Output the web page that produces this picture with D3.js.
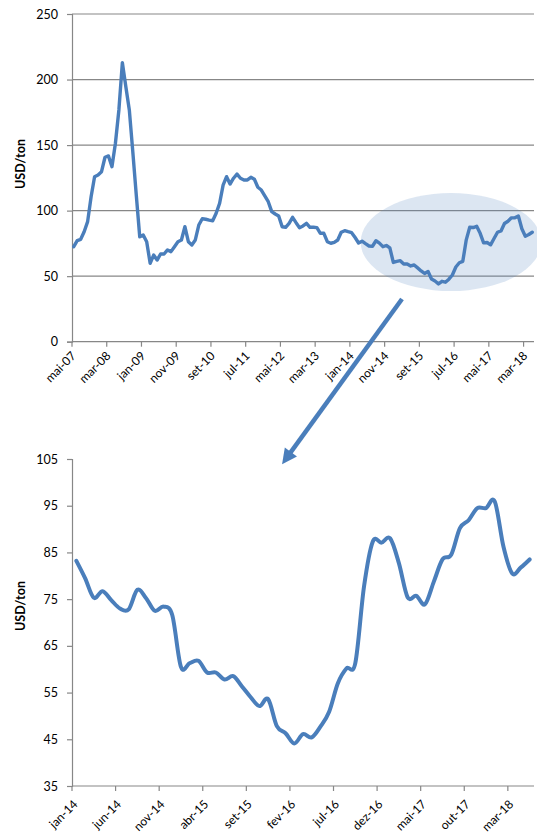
<!DOCTYPE html>
<html>
<head>
<meta charset="utf-8">
<script src="https://cdn.jsdelivr.net/npm/d3@7"></script>
<style>
  html, body { margin: 0; padding: 0; background: #fff; }
  svg { display: block; }
  text { font-family: Lato, "Open Sans", sans-serif; fill: #000; }
</style>
</head>
<body>
<svg id="chart" width="537" height="834"></svg>
<script>
// Monthly price, USD/ton — mai-07 to dez-13
const historyValues = [
  72.5, 77.1, 78.1, 83.9, 91.6, 110.6, 125.9, 127.2, 129.7, 140.7,
  141.7, 133.5, 151.4, 176.8, 212.9, 194.5, 176.8, 145.0, 112.0, 80.0,
  81.4, 76.3, 59.8, 66.1, 62.3, 66.9, 66.9, 70.0, 68.7, 72.5,
  76.3, 77.6, 87.7, 76.3, 73.8, 77.6, 89.0, 93.8, 93.4, 92.8,
  92.3, 98.0, 105.6, 119.5, 125.9, 120.3, 124.7, 127.9, 124.7, 123.4,
  123.4, 125.4, 123.9, 117.8, 115.7, 111.2, 106.8, 99.2, 97.4, 95.9,
  87.7, 87.3, 90.3, 94.9, 90.8, 87.0, 88.3, 90.3, 87.3, 87.3,
  87.0, 82.7, 82.7, 76.3, 75.1, 75.8, 77.6, 83.5, 84.7, 83.9
];
// Monthly price, USD/ton — jan-14 to mai-18
const recentValues = [
  83.2, 79.5, 75.3, 76.7, 74.8, 73.0, 72.8, 77.0, 75.2, 72.5,
  73.4, 71.6, 60.5, 61.3, 61.8, 59.3, 59.3, 57.8, 58.5, 56.3,
  54.0, 52.1, 53.6, 47.8, 46.3, 44.1, 46.1, 45.4, 47.7, 50.9,
  57.0, 60.2, 61.3, 77.7, 87.3, 87.1, 88.0, 82.7, 75.4, 75.7,
  73.9, 78.7, 83.5, 84.5, 90.2, 91.9, 94.5, 94.5, 95.9, 86.2,
  80.5, 81.8, 83.5
];

const monthNames = ["jan", "fev", "mar", "abr", "mai", "jun", "jul", "ago", "set", "out", "nov", "dez"];

const upperTickLabels = ["mai-07", "mar-08", "jan-09", "nov-09", "set-10", "jul-11", "mai-12",
  "mar-13", "jan-14", "nov-14", "set-15", "jul-16", "mai-17", "mar-18"];
const lowerTickLabels = ["jan-14", "jun-14", "nov-14", "abr-15", "set-15", "fev-16",
  "jul-16", "dez-16", "mai-17", "out-17", "mar-18"];

const upperYTicks = [0, 50, 100, 150, 200, 250];
const lowerYTicks = [35, 45, 55, 65, 75, 85, 95, 105];

// month labels like "mai-07" from a starting month/year
function monthLabels(startMonth, startYear, count) {
  return d3.range(count).map(k => {
    const m = (startMonth + k) % 12;
    const y = startYear + Math.floor((startMonth + k) / 12);
    return monthNames[m] + "-" + String(y % 100).padStart(2, "0");
  });
}

const allValues = historyValues.concat(recentValues);
const upperCategories = monthLabels(4, 2007, allValues.length);
const lowerCategories = monthLabels(0, 2014, recentValues.length);

const upperData = upperCategories.map((c, i) => ({ c, v: allValues[i] }));
const lowerData = lowerCategories.map((c, i) => ({ c, v: recentValues[i] }));

const LINE = "#4a7ebb";
const AXIS = "#878787";

const svg = d3.select("#chart");

function panel(cfg) {
  const g = svg.append("g");
  const x = d3.scaleBand().domain(cfg.categories).range([cfg.left, cfg.right]).padding(0);
  const y = d3.scaleLinear().domain(cfg.yDomain).range([cfg.bottom, cfg.top]);
  const xc = c => x(c) + x.bandwidth() / 2;

  // horizontal gridlines
  if (cfg.grid) {
    g.append("g").selectAll("line")
      .data(cfg.yTicks.filter(t => t !== cfg.yDomain[0]))
      .join("line")
      .attr("x1", cfg.left).attr("x2", cfg.right)
      .attr("y1", d => y(d)).attr("y2", d => y(d))
      .attr("stroke", AXIS).attr("stroke-width", 1.2);
  }

  // y axis
  const ya = g.append("g")
    .attr("transform", `translate(${cfg.left},0)`)
    .call(d3.axisLeft(y).tickValues(cfg.yTicks).tickSize(5).tickPadding(9).tickFormat(d3.format("d")));
  ya.select(".domain").attr("stroke", AXIS).attr("stroke-width", 1.2);
  ya.selectAll(".tick line").attr("stroke", AXIS).attr("stroke-width", 1.2);
  ya.selectAll(".tick text").style("font-size", "12.5px").style("font-family", "Lato, sans-serif").attr("fill", "#000");

  // x axis: tick marks on category boundaries, labels on category centers
  const xa = g.append("g").attr("transform", `translate(0,${cfg.bottom})`);
  xa.append("line")
    .attr("x1", cfg.left).attr("x2", cfg.right)
    .attr("stroke", AXIS).attr("stroke-width", 1.2);
  xa.selectAll("line.tick").data(cfg.tickLabels).join("line")
    .attr("class", "tick")
    .attr("x1", d => x(d)).attr("x2", d => x(d))
    .attr("y1", 0).attr("y2", 5)
    .attr("stroke", AXIS).attr("stroke-width", 1.2);
  xa.selectAll("text").data(cfg.tickLabels).join("text")
    .attr("text-anchor", "end")
    .attr("dy", "0.35em")
    .attr("transform", d => `translate(${xc(d) + cfg.labelDx},${cfg.labelDy}) rotate(-45)`)
    .style("font-size", "12px")
    .text(d => d);

  // axis title
  g.append("text")
    .attr("transform", `translate(${cfg.titleX},${cfg.titleY}) rotate(-90)`)
    .attr("text-anchor", "middle")
    .attr("dy", "0.35em")
    .style("font-size", "12.5px")
    .style("font-weight", "bold")
    .text("USD/ton");

  const lineGen = d3.line().x(d => xc(d.c)).y(d => y(d.v)).curve(cfg.curve);

  return { g, x, y, xc, lineGen };
}

const upper = panel({
  categories: upperCategories, tickLabels: upperTickLabels,
  left: 72, right: 534, top: 14, bottom: 341.7,
  yDomain: [0, 250], yTicks: upperYTicks, grid: true,
  labelDx: 0, labelDy: 12,
  titleX: 21, titleY: 164,
  curve: d3.curveLinear
});

const lower = panel({
  categories: lowerCategories, tickLabels: lowerTickLabels,
  left: 72, right: 534, top: 459, bottom: 786,
  yDomain: [35, 105], yTicks: lowerYTicks, grid: false,
  labelDx: -1, labelDy: 16,
  titleX: 21, titleY: 606,
  curve: d3.curveCardinal.tension(0)
});

// series lines
upper.g.append("path").datum(upperData)
  .attr("d", upper.lineGen)
  .attr("fill", "none").attr("stroke", LINE)
  .attr("stroke-width", 3.4).attr("stroke-linejoin", "round").attr("stroke-linecap", "round");

lower.g.append("path").datum(lowerData)
  .attr("d", lower.lineGen)
  .attr("fill", "none").attr("stroke", LINE)
  .attr("stroke-width", 4).attr("stroke-linejoin", "round").attr("stroke-linecap", "round");

// highlight around the recent period in the upper chart
const hlIdx = 108.6, hlVal = 76;
const hlX = upper.x(upperCategories[0]) + (hlIdx + 0.5) * upper.x.step();
svg.append("ellipse")
  .attr("cx", hlX).attr("cy", upper.y(hlVal))
  .attr("rx", 26 * upper.x.step())
  .attr("ry", upper.y(0) - upper.y(37.4))
  .attr("fill", "#4f81bd").attr("fill-opacity", 0.2);

// arrow linking the highlight to the detail chart
const ax1 = upper.x(upperCategories[0]) + 95 * upper.x.step(), ay1 = upper.y(32.6);
const ax2 = lower.x(lowerCategories[0]) + 24.1 * lower.x.step(), ay2 = lower.y(103.9);
const ang = Math.atan2(ay2 - ay1, ax2 - ax1);
const headLen = 15, headHalf = 7.5;
const bx = ax2 - headLen * Math.cos(ang), by = ay2 - headLen * Math.sin(ang);
svg.append("line")
  .attr("x1", ax1).attr("y1", ay1).attr("x2", bx + 2 * Math.cos(ang)).attr("y2", by + 2 * Math.sin(ang))
  .attr("stroke", LINE).attr("stroke-width", 4.5);
svg.append("path")
  .attr("d", `M${ax2},${ay2}L${bx - headHalf * Math.sin(ang)},${by + headHalf * Math.cos(ang)}L${bx + headHalf * Math.sin(ang)},${by - headHalf * Math.cos(ang)}Z`)
  .attr("fill", LINE);
</script>
</body>
</html>
